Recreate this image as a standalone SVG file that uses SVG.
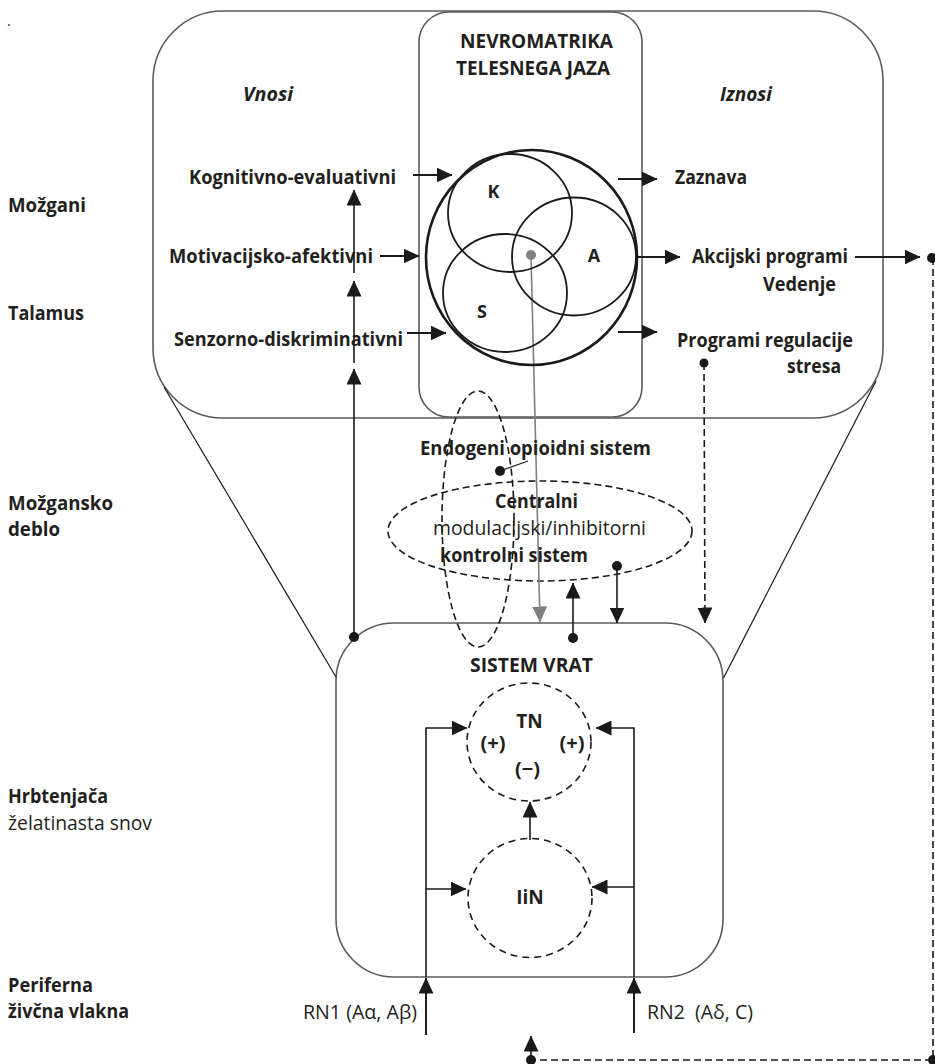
<svg xmlns="http://www.w3.org/2000/svg" width="935" height="1064" viewBox="0 0 935 1064">
<style>
text{font-family:"Open Sans","Noto Sans","Liberation Sans",sans-serif;fill:#231f20;font-size:20px}
.b{font-weight:bold}
.bi{font-weight:bold;font-style:italic}
.sm{font-size:18px;font-weight:bold}
.pm{font-size:20px;font-weight:bold}
.box{fill:none;stroke:#5a5a5a;stroke-width:1.6}
.ln{fill:none;stroke:#1a1a1a;stroke-width:1.6}
.thk{fill:none;stroke:#1a1a1a;stroke-width:2}
.dsh{fill:none;stroke:#1a1a1a;stroke-width:1.6;stroke-dasharray:7 4}
.cir{fill:none;stroke:#1a1a1a;stroke-width:1.8}
.dot{fill:#1a1a1a}
</style>
<defs>
<marker id="ah" viewBox="0 0 16 15" markerWidth="16" markerHeight="15" refX="15.5" refY="7.5" orient="auto" markerUnits="userSpaceOnUse"><path d="M0,0 L16,7.5 L0,15 z" fill="#1a1a1a"/></marker>
<marker id="ahg" viewBox="0 0 16 15" markerWidth="16" markerHeight="15" refX="15.5" refY="7.5" orient="auto" markerUnits="userSpaceOnUse"><path d="M0,0 L16,7.5 L0,15 z" fill="#808080"/></marker>
</defs>

<text x="7" y="26" style="font-size:14px">.</text>

<g id="levels">
<text class="b" x="8" y="212" textLength="78" lengthAdjust="spacingAndGlyphs">Možgani</text>
<text class="b" x="8" y="320" textLength="76" lengthAdjust="spacingAndGlyphs">Talamus</text>
<text class="b" x="8" y="510" textLength="105" lengthAdjust="spacingAndGlyphs">Možgansko</text>
<text class="b" x="8" y="536" textLength="52" lengthAdjust="spacingAndGlyphs">deblo</text>
<text class="b" x="8" y="803" textLength="100" lengthAdjust="spacingAndGlyphs">Hrbtenjača</text>
<text x="8" y="830" textLength="144" lengthAdjust="spacingAndGlyphs">želatinasta snov</text>
<text class="b" x="8" y="992" textLength="85" lengthAdjust="spacingAndGlyphs">Periferna</text>
<text class="b" x="8" y="1018" textLength="121" lengthAdjust="spacingAndGlyphs">živčna vlakna</text>
</g>

<g id="brain-box">
<rect class="box" x="153" y="11" width="730" height="407" rx="70"/>
<text class="bi" x="243" y="101" textLength="50" lengthAdjust="spacingAndGlyphs">Vnosi</text>
<text class="bi" x="720" y="101" textLength="52" lengthAdjust="spacingAndGlyphs">Iznosi</text>
</g>

<g id="neuromatrix-box">
<rect class="box" x="419" y="12" width="223" height="405" rx="30"/>
<text class="b" x="460" y="48" textLength="153" lengthAdjust="spacingAndGlyphs" style="font-size:19px">NEVROMATRIKA</text>
<text class="b" x="456" y="75" textLength="154" lengthAdjust="spacingAndGlyphs" style="font-size:19px">TELESNEGA JAZA</text>
</g>

<g id="gate-box">
<rect class="box" x="336" y="623" width="387" height="354" rx="58"/>
<text class="b" x="470" y="672" textLength="123" lengthAdjust="spacingAndGlyphs" style="font-size:19px">SISTEM VRAT</text>
</g>

<g id="opioid-ellipse">
<ellipse class="dsh" cx="478" cy="519" rx="36" ry="128"/>
</g>
<g id="central-ellipse">
<ellipse class="dsh" cx="540" cy="531" rx="152" ry="50"/>
</g>

<g id="connectors">
<line class="ln" x1="164" y1="387" x2="336" y2="677" style="stroke-width:1.2"/>
<line class="ln" x1="876" y1="381" x2="723.5" y2="678" style="stroke-width:1.2"/>
<line class="ln" x1="354" y1="637" x2="354" y2="369" marker-end="url(#ah)"/>
<line class="ln" x1="354" y1="363" x2="354" y2="281" marker-end="url(#ah)"/>
<line class="ln" x1="354" y1="273" x2="354" y2="190" marker-end="url(#ah)"/>
<circle class="dot" cx="354" cy="637" r="5"/>
<line class="thk" x1="413" y1="175" x2="452" y2="175" marker-end="url(#ah)"/>
<line class="thk" x1="380" y1="256" x2="419" y2="256" marker-end="url(#ah)"/>
<line class="thk" x1="407" y1="333" x2="446" y2="333" marker-end="url(#ah)"/>
<line class="thk" x1="618" y1="179" x2="657" y2="179" marker-end="url(#ah)"/>
<line class="thk" x1="637" y1="257" x2="680" y2="257" marker-end="url(#ah)"/>
<line class="thk" x1="618" y1="332" x2="657" y2="332" marker-end="url(#ah)"/>
<line class="thk" x1="855" y1="257" x2="920" y2="257" marker-end="url(#ah)"/>
<circle class="dot" cx="932" cy="258" r="5"/>
<polyline class="dsh" points="933,258 933,1060 531,1060"/>
<circle class="dot" cx="933" cy="1060" r="5"/>
<circle class="dot" cx="531" cy="1060" r="5"/>
<line class="ln" x1="531" y1="1058" x2="531" y2="1036" marker-end="url(#ah)"/>
<circle class="dot" cx="704" cy="363" r="4.5"/>
<line class="dsh" x1="704" y1="363" x2="705" y2="623" marker-end="url(#ah)"/>
<line x1="531" y1="255" x2="540" y2="622" stroke="#808080" stroke-width="1.6" marker-end="url(#ahg)"/>
<circle cx="531" cy="255" r="5" fill="#808080"/>
<circle class="dot" cx="617" cy="566" r="5"/>
<line class="ln" x1="617" y1="566" x2="617" y2="623" marker-end="url(#ah)"/>
<circle class="dot" cx="573" cy="638" r="5"/>
<line class="ln" x1="573" y1="638" x2="573" y2="583" marker-end="url(#ah)"/>
<circle class="dot" cx="500" cy="471" r="5"/>
<line class="ln" x1="500" y1="471" x2="528" y2="461" style="stroke-width:1.2"/>
<line class="thk" x1="426" y1="1035" x2="426" y2="978" marker-end="url(#ah)"/>
<line class="thk" x1="634" y1="1033" x2="634" y2="978" marker-end="url(#ah)"/>
<polyline class="ln" points="426,977 426,728 467,728" marker-end="url(#ah)"/>
<polyline class="ln" points="634,977 634,728 596,728" marker-end="url(#ah)"/>
<line class="ln" x1="426" y1="889" x2="466" y2="889" marker-end="url(#ah)"/>
<line class="ln" x1="634" y1="887" x2="592" y2="887" marker-end="url(#ah)"/>
<line class="ln" x1="530" y1="840" x2="530" y2="802" marker-end="url(#ah)"/>
</g>

<g id="neuromatrix-circles">
<ellipse cx="531.5" cy="257.5" rx="105.5" ry="107.5" fill="none" stroke="#1a1a1a" stroke-width="2.6"/>
<ellipse class="cir" cx="510" cy="213" rx="62" ry="59"/>
<ellipse class="cir" cx="574" cy="256.5" rx="62" ry="59"/>
<ellipse class="cir" cx="505" cy="293" rx="62" ry="59"/>
<text class="sm" x="493.5" y="198" text-anchor="middle">K</text>
<text class="sm" x="594" y="262" text-anchor="middle">A</text>
<text class="sm" x="482" y="318" text-anchor="middle">S</text>
</g>

<g id="inputs">
<text class="b" x="189" y="184" textLength="207" lengthAdjust="spacingAndGlyphs">Kognitivno-evaluativni</text>
<text class="b" x="169" y="263" textLength="204" lengthAdjust="spacingAndGlyphs">Motivacijsko-afektivni</text>
<text class="b" x="174" y="346" textLength="229" lengthAdjust="spacingAndGlyphs">Senzorno-diskriminativni</text>
</g>

<g id="outputs">
<text class="b" x="675" y="184" textLength="72" lengthAdjust="spacingAndGlyphs">Zaznava</text>
<text class="b" x="692" y="263" textLength="156" lengthAdjust="spacingAndGlyphs">Akcijski programi</text>
<text class="b" x="763" y="291" textLength="73" lengthAdjust="spacingAndGlyphs">Vedenje</text>
<text class="b" x="677" y="347" textLength="176" lengthAdjust="spacingAndGlyphs">Programi regulacije</text>
<text class="b" x="787" y="373" textLength="54" lengthAdjust="spacingAndGlyphs">stresa</text>
</g>

<g id="opioid-label">
<text class="b" x="420" y="455" textLength="231" lengthAdjust="spacingAndGlyphs">Endogeni opioidni sistem</text>
</g>
<g id="central-label">
<text class="b" x="495" y="508" textLength="83" lengthAdjust="spacingAndGlyphs">Centralni</text>
<text x="433" y="535" textLength="213" lengthAdjust="spacingAndGlyphs">modulacijski/inhibitorni</text>
<text class="b" x="440" y="562" textLength="148" lengthAdjust="spacingAndGlyphs">kontrolni sistem</text>
</g>

<g id="TN">
<ellipse cx="529" cy="742" rx="62" ry="59" fill="none" stroke="#1a1a1a" stroke-width="1.6" stroke-dasharray="7 5"/>
<text class="sm" x="529.5" y="728" text-anchor="middle" style="font-size:19px">TN</text>
<text class="pm" x="493" y="750" text-anchor="middle">(+)</text>
<text class="pm" x="572" y="750" text-anchor="middle">(+)</text>
<text class="pm" x="527.5" y="776" text-anchor="middle">(−)</text>
</g>

<g id="IiN">
<ellipse cx="530" cy="898" rx="62" ry="59.5" fill="none" stroke="#1a1a1a" stroke-width="1.6" stroke-dasharray="7 5"/>
<text class="sm" x="530" y="904" text-anchor="middle" style="font-size:19px">IiN</text>
</g>

<g id="fibres">
<text x="303" y="1019" textLength="114" lengthAdjust="spacingAndGlyphs">RN1 (Aα, Aβ)</text>
<text x="647" y="1019" textLength="106" lengthAdjust="spacingAndGlyphs" xml:space="preserve">RN2  (Aδ, C)</text>
</g>
</svg>
